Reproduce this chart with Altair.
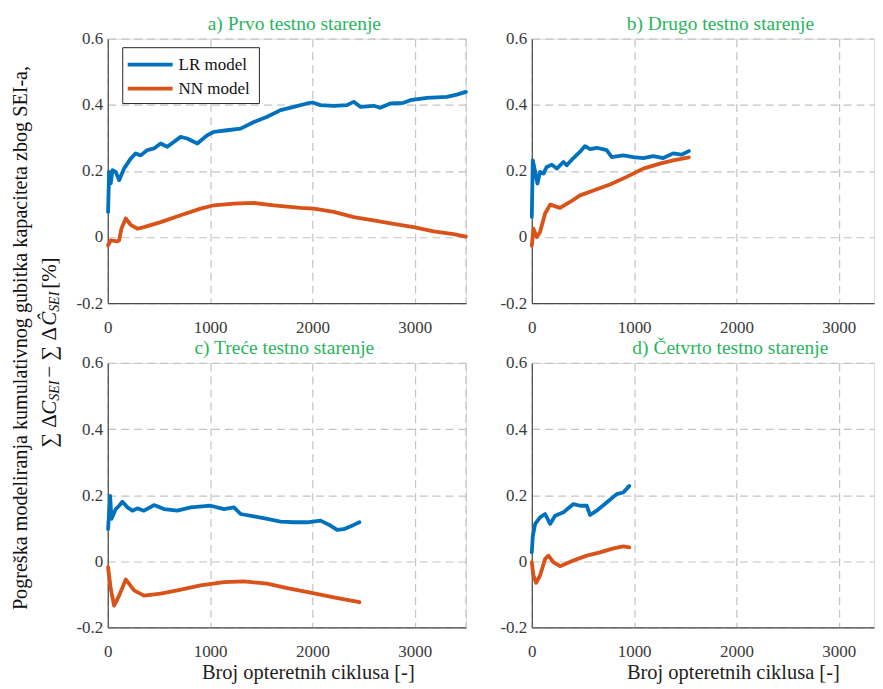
import altair as alt
import pandas as pd

# ---------------- data ----------------
a_lr_x = [3, 13, 29, 46, 78, 111, 159, 224, 273, 322, 387, 452, 517, 582, 712, 777, 875, 972, 1037, 1167,
          1298, 1428, 1558, 1688, 1818, 1948, 2000, 2078, 2208, 2338, 2403, 2468, 2598, 2663, 2761, 2891,
          2956, 3119, 3314, 3411, 3499]
a_lr_y = [0.076, 0.197, 0.162, 0.202, 0.197, 0.172, 0.207, 0.237, 0.253, 0.247, 0.263, 0.268, 0.283, 0.273,
          0.303, 0.298, 0.283, 0.308, 0.318, 0.323, 0.328, 0.348, 0.364, 0.384, 0.394, 0.404, 0.407, 0.399,
          0.397, 0.399, 0.409, 0.394, 0.397, 0.391, 0.404, 0.406, 0.414, 0.421, 0.424, 0.431, 0.439]
a_nn_x = [3, 29, 94, 111, 133, 176, 224, 289, 354, 517, 712, 907, 1037, 1233, 1428, 1623, 1883, 2013, 2208,
          2403, 2598, 2793, 2989, 3184, 3379, 3499]
a_nn_y = [-0.025, -0.010, -0.013, -0.010, 0.025, 0.056, 0.037, 0.025, 0.030, 0.045, 0.066, 0.086, 0.096,
          0.101, 0.103, 0.096, 0.088, 0.086, 0.076, 0.060, 0.050, 0.040, 0.030, 0.017, 0.009, 0.001]

b_lr_x = [0, 10, 33, 55, 81, 114, 146, 195, 244, 309, 341, 407, 472, 520, 569, 634, 732, 780, 894, 992,
          1089, 1187, 1285, 1382, 1463, 1535]
b_lr_y = [0.061, 0.232, 0.197, 0.162, 0.197, 0.192, 0.212, 0.219, 0.207, 0.227, 0.217, 0.239, 0.258, 0.275,
          0.266, 0.270, 0.263, 0.242, 0.247, 0.242, 0.239, 0.245, 0.239, 0.253, 0.249, 0.260]
b_nn_x = [0, 16, 49, 81, 130, 179, 276, 374, 472, 602, 764, 927, 1089, 1252, 1382, 1535]
b_nn_y = [-0.026, 0.025, 0.000, 0.015, 0.071, 0.098, 0.088, 0.106, 0.126, 0.141, 0.159, 0.182, 0.207,
          0.222, 0.232, 0.241]

c_lr_x = [3, 23, 36, 78, 111, 143, 192, 241, 289, 354, 452, 550, 680, 810, 1005, 1135, 1233, 1298, 1428,
          1558, 1688, 1818, 1948, 2078, 2176, 2241, 2306, 2403, 2459]
c_lr_y = [0.097, 0.198, 0.128, 0.158, 0.168, 0.180, 0.163, 0.153, 0.160, 0.153, 0.170, 0.158, 0.153,
          0.163, 0.168, 0.158, 0.163, 0.143, 0.136, 0.128, 0.120, 0.118, 0.118, 0.123, 0.108, 0.095, 0.097,
          0.110, 0.118]
c_nn_x = [3, 29, 62, 111, 176, 257, 354, 517, 680, 907, 1135, 1330, 1558, 1753, 1980, 2208, 2459]
c_nn_y = [-0.018, -0.083, -0.134, -0.104, -0.055, -0.088, -0.104, -0.098, -0.088, -0.073, -0.063, -0.061,
          -0.068, -0.081, -0.095, -0.109, -0.124]

d_lr_x = [0, 10, 33, 81, 130, 179, 228, 309, 407, 472, 537, 569, 634, 732, 829, 894, 953]
d_lr_y = [0.027, 0.077, 0.113, 0.133, 0.143, 0.113, 0.138, 0.148, 0.173, 0.168, 0.168, 0.140, 0.153,
          0.178, 0.203, 0.208, 0.228]
d_nn_x = [0, 16, 42, 81, 130, 163, 211, 276, 407, 537, 667, 797, 894, 953]
d_nn_y = [-0.003, -0.043, -0.065, -0.043, 0.007, 0.017, -0.003, -0.015, 0.002, 0.017, 0.027, 0.039,
          0.045, 0.042]

models = ["LR model", "NN model"]
titles = {"a": "a) Prvo testno starenje", "b": "b) Drugo testno starenje",
          "c": "c) Treće testno starenje", "d": "d) Četvrto testno starenje"}
x_ticks = [0, 1000, 2000, 3000]
y_ticks = [-0.2, 0, 0.2, 0.4, 0.6]
x_title = "Broj opteretnih ciklusa [-]"
y_title_1 = "Pogreška modeliranja kumulativnog gubitka kapaciteta zbog SEI-a,"

series = {
    "a": (a_lr_x, a_lr_y, a_nn_x, a_nn_y),
    "b": (b_lr_x, b_lr_y, b_nn_x, b_nn_y),
    "c": (c_lr_x, c_lr_y, c_nn_x, c_nn_y),
    "d": (d_lr_x, d_lr_y, d_nn_x, d_nn_y),
}

# ---------------- style ----------------
FONT = "Liberation Serif"
BLUE = "#0072BD"
ORANGE = "#D95319"
GREEN = "#27B55C"
TXT = "#3a3a3a"
GRID = "#c4c4c4"
H = 265
W_LEFT, W_RIGHT = 359, 343
X_LEFT_MAX, X_RIGHT_MAX = 3500, 3344
NB = "\u00a0"
color_scale = alt.Scale(domain=models, range=[BLUE, ORANGE])


def frame(key):
    lx, ly, nx, ny = series[key]
    return pd.DataFrame({
        "x": list(lx) + list(nx),
        "y": list(ly) + list(ny),
        "model": [models[0]] * len(lx) + [models[1]] * len(nx),
    })


def one(val):
    return pd.DataFrame({"t": [val]})


def panel(key, xmax, width, title_cx, xtitle_cx=None, legend=False, ylabel=False, right_border=True):
    df = frame(key)
    xenc = alt.X("x:Q", scale=alt.Scale(domain=[0, xmax], nice=False, zero=False),
                 axis=alt.Axis(values=x_ticks, format="d", title=None, ticks=False,
                               labelPadding=16, labelFontSize=17, labelFont=FONT, labelColor=TXT,
                               domainColor="#4a4a4a", domainWidth=1.2,
                               gridColor=GRID, gridDash=[8, 5], gridWidth=1.2,
                               labelFlush=False))
    yenc = alt.Y("y:Q", scale=alt.Scale(domain=[-0.2, 0.6], nice=False, zero=False),
                 axis=alt.Axis(values=y_ticks, title=None, ticks=False, labelPadding=5,
                               labelExpr="datum.value == 0 ? '0' : (datum.value < 0 ? '-' + format(-datum.value, '.1f') : format(datum.value, '.1f'))",
                               labelFontSize=17, labelFont=FONT, labelColor=TXT,
                               domainColor="#4a4a4a", domainWidth=1.2,
                               gridColor=GRID, gridDash=[8, 5], gridWidth=1.2,
                               labelFlush=False))
    lines = alt.Chart(df).mark_line(strokeWidth=3.8, strokeJoin="round", strokeCap="round").encode(
        x=xenc, y=yenc,
        color=alt.Color("model:N", scale=color_scale, legend=None),
        detail="model:N",
    )
    layers = []
    if right_border:
        layers.append(alt.Chart(one("edge")).mark_rule(color=GRID, strokeDash=[8, 5], strokeWidth=1.2).encode(
            x=alt.value(width), y=alt.value(0), y2=alt.value(H)))
    layers.append(lines)
    layers.append(alt.Chart(one(titles[key])).mark_text(
        font=FONT, fontSize=19.5, color=GREEN, align="center", baseline="alphabetic").encode(
        x=alt.value(title_cx), y=alt.value(-9), text="t:N"))
    if xtitle_cx is not None:
        layers.append(alt.Chart(one(x_title)).mark_text(
            font=FONT, fontSize=20.5, color="#222222", align="center", baseline="alphabetic").encode(
            x=alt.value(xtitle_cx), y=alt.value(H + 52), text="t:N"))
    if legend:
        layers.append(alt.Chart(one("box")).mark_rect(fill="white", stroke="#262626", strokeWidth=1).encode(
            x=alt.value(15), x2=alt.value(152), y=alt.value(9), y2=alt.value(65)))
        for m, yy, col in [(models[0], 26, BLUE), (models[1], 50, ORANGE)]:
            layers.append(alt.Chart(one(m)).mark_rule(strokeWidth=3.8, color=col).encode(
                x=alt.value(20), x2=alt.value(65), y=alt.value(yy)))
            layers.append(alt.Chart(one(m)).mark_text(
                font=FONT, fontSize=17, color="#111111", align="left", baseline="middle").encode(
                x=alt.value(71), y=alt.value(yy), text="t:N"))
    if ylabel:
        layers.append(alt.Chart(one(y_title_1)).mark_text(
            font=FONT, fontSize=20.2, color="#111111", angle=270, align="center", baseline="middle").encode(
            x=alt.value(-87), y=alt.value(300), text="t:N"))
        # second line: sum of differences with subscripts, built from segments
        main, sub = 21, 14
        segs = [("∑" + NB + "Δ", main, "normal", (713 + 250 + 612)),
                ("C", main, "italic", 667),
                ("SEI", sub, "italic", 1650),
                (NB + "−" + NB + "∑" + NB + "Δ", main, "normal", 2480),
                ("Ĉ", main, "italic", 667),
                ("SEI", sub, "italic", 1650),
                (NB + "[%]", main, "normal", 250 + 333 + 833 + 333)]
        total = sum(w * s / 1000 for _, s, _, w in segs)
        ypos = 312 + total / 2
        for txt, size, style, w in segs:
            xoff = -58 + (5 if size == sub else 0)
            layers.append(alt.Chart(one(txt)).mark_text(
                font=FONT, fontSize=size, fontStyle=style, color="#111111", angle=270,
                align="left", baseline="middle").encode(
                x=alt.value(xoff), y=alt.value(ypos), text="t:N"))
            ypos -= w * size / 1000
    return alt.layer(*layers).properties(width=width, height=H)


pa = panel("a", X_LEFT_MAX, W_LEFT, 187, legend=True, ylabel=True)
pb = panel("b", X_RIGHT_MAX, W_RIGHT, 189, right_border=False)
pc = panel("c", X_LEFT_MAX, W_LEFT, 177, xtitle_cx=201)
pd_ = panel("d", X_RIGHT_MAX, W_RIGHT, 199, xtitle_cx=202, right_border=False)

chart = alt.concat(pa, pb, pc, pd_, columns=2, bounds="flush", align="each",
                   spacing=alt.RowColnumber(row=60, column=66)).properties(
    padding={"left": 2, "top": 4, "right": 0, "bottom": 0}
).configure_view(
    stroke="transparent"
).configure(background="white")

chart.save("out.html", embed_options={"renderer": "svg", "actions": False})
